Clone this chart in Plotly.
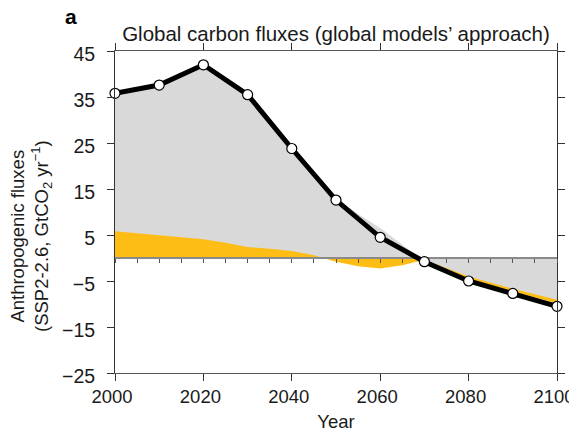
import plotly.graph_objects as go

# ---- data ----
years = [2000, 2010, 2020, 2030, 2040, 2050, 2060, 2070, 2080, 2090, 2100]
net_flux = [35.8, 37.6, 42.0, 35.5, 23.8, 12.6, 4.5, -0.8, -5.0, -7.7, -10.5]

gross_years = [2000, 2010, 2020, 2030, 2040, 2050, 2060, 2069, 2080, 2090, 2100]
gross_flux = [35.8, 37.6, 42.0, 35.5, 23.8, 12.6, 6.5, 0.0, -4.0, -6.7, -9.1]

land_years_early = [2000, 2010, 2020, 2025, 2030, 2035, 2040, 2045, 2050, 2055, 2060, 2065, 2070]
land_flux_early = [5.8, 5.0, 4.1, 3.3, 2.4, 2.0, 1.5, 0.6, -0.8, -1.8, -2.3, -1.6, -0.4]

land_years_late = [2070, 2080, 2090, 2100]
land_flux_late = [-0.4, -4.6, -7.3, -9.9]

baseline_years = [2000, 2100]
baseline_flux = [0, 0]

x_range = [2000, 2100]
y_range = [-25, 45]
x_tick_labels = [2000, 2020, 2040, 2060, 2080, 2100]
minor_tick_years = [2000, 2005, 2010, 2015, 2020, 2025, 2030, 2035, 2040, 2045,
                    2050, 2055, 2060, 2065, 2075, 2080, 2085, 2090, 2095, 2100]

GRAY = "#d9d9d9"
YELLOW = "#fdbd14"
FONT = "Liberation Sans, Arial, sans-serif"

# the page body adds an 8 px offset; margins compensate for it
PAGE_OFFSET = 8
W, H = 577, 433

fig = go.Figure()

fig.add_trace(go.Scatter(x=land_years_late, y=land_flux_late, mode="lines",
                         line=dict(width=0, color=YELLOW), fill="tozeroy",
                         fillcolor=YELLOW, hoverinfo="skip"))
fig.add_trace(go.Scatter(x=gross_years, y=gross_flux, mode="lines",
                         line=dict(width=0, color=GRAY), fill="tozeroy",
                         fillcolor=GRAY, hoverinfo="skip"))
fig.add_trace(go.Scatter(x=land_years_early, y=land_flux_early, mode="lines",
                         line=dict(width=0, color=YELLOW), fill="tozeroy",
                         fillcolor=YELLOW, hoverinfo="skip"))
fig.add_trace(go.Scatter(x=baseline_years, y=baseline_flux, mode="lines",
                         line=dict(width=2, color="#8a8a8a"), hoverinfo="skip"))
fig.add_trace(go.Scatter(x=years, y=net_flux, mode="lines+markers",
                         cliponaxis=False,
                         line=dict(width=5, color="black"),
                         marker=dict(size=10, color="white",
                                     line=dict(width=1.2, color="black"))))
# invisible carrier so the zero-line tick axis gets drawn
fig.add_trace(go.Scatter(x=baseline_years, y=baseline_flux, xaxis="x2", yaxis="y2",
                         mode="lines", line=dict(width=0, color="rgba(0,0,0,0)"),
                         hoverinfo="skip"))

zero_pos = (0 - y_range[0]) / (y_range[1] - y_range[0])

fig.update_layout(
    width=W, height=H,
    margin=dict(l=115 - PAGE_OFFSET, r=19.5 + PAGE_OFFSET,
                t=50.5 - PAGE_OFFSET, b=59.5 + PAGE_OFFSET, autoexpand=False),
    paper_bgcolor="white", plot_bgcolor="rgba(0,0,0,0)",
    showlegend=False,
    font=dict(family=FONT, size=19.5, color="#1a1a1a"),
    title=dict(text="Global carbon fluxes (global models’ approach)",
               x=0.5, xref="paper", xanchor="center",
               y=1 - (34 - PAGE_OFFSET) / H, yref="container", yanchor="middle",
               font=dict(family=FONT, size=20.5, color="#1a1a1a")),
    xaxis=dict(range=x_range, tickvals=x_tick_labels, ticks="outside",
               ticklen=7, tickcolor="#333", showline=True, linecolor="#555",
               linewidth=1, mirror="all", showgrid=False, zeroline=False,
               ticklabeloverflow="allow", ticklabelshift=-3,
               tickfont=dict(size=18.5), automargin=False, anchor="y",
               title=dict(text="Year", standoff=8, font=dict(size=18.5))),
    yaxis=dict(range=y_range, tick0=-25, dtick=10, ticks="outside",
               ticklen=7, tickcolor="#333", showline=True, linecolor="#333",
               linewidth=1, mirror="all", showgrid=False, zeroline=False,
               ticklabelstandoff=8, ticklabelshift=3,
               automargin=False, anchor="x"),
    # helper axes: minor ticks along the zero line
    yaxis2=dict(domain=[zero_pos, 1], range=[0, y_range[1]], visible=False,
                anchor="x2", fixedrange=True),
    xaxis2=dict(range=x_range, anchor="y2", side="bottom",
                tickvals=minor_tick_years, ticks="outside", ticklen=4,
                tickcolor="#555", showticklabels=False, showline=False,
                showgrid=False, zeroline=False, automargin=False),
    annotations=[
        dict(text="<b>a</b>", xref="paper", yref="paper",
             x=(71 - 115) / 442.5, y=(373.5 - 16) / 323,
             xanchor="center", yanchor="middle", showarrow=False,
             font=dict(family=FONT, size=21, color="black")),
        dict(text="Anthropogenic fluxes<br>(SSP2-2.6, GtCO<sub>2</sub> yr<sup>−1</sup>)",
             xref="paper", yref="paper", textangle=-90,
             x=(31 - 115) / 442.5, y=(373.5 - 236) / 323,
             xanchor="center", yanchor="middle", showarrow=False,
             font=dict(family=FONT, size=18.5, color="#1a1a1a")),
    ],
)

fig.write_html("out.html")
